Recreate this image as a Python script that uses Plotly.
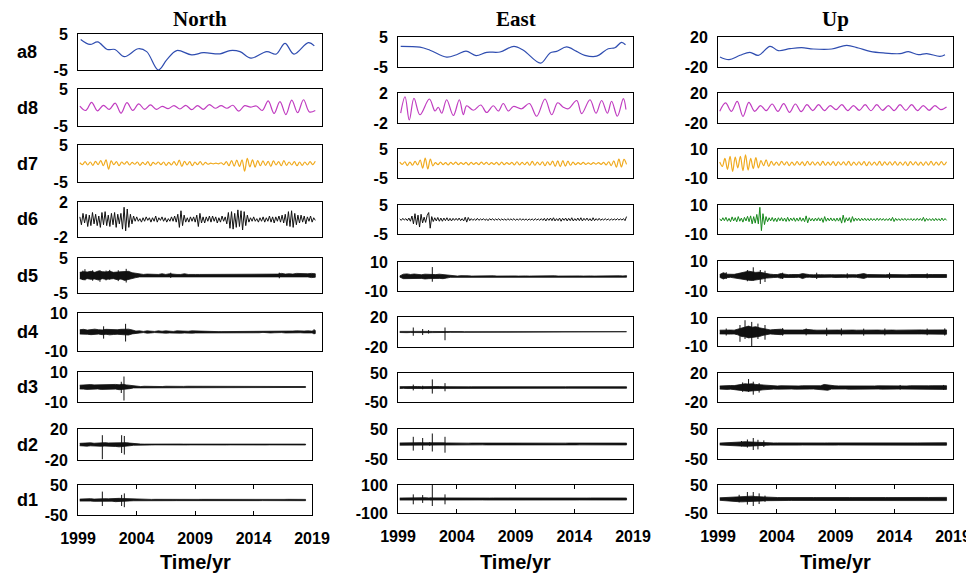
import numpy as np
import plotly.graph_objects as go

W, H = 974, 578          # browser window
OFF = 8                  # page body margin that offsets the figure inside the window
FW, FH = W - OFF, H - OFF
T0, T1 = 1999.15, 2018.45

COLUMNS = ["North", "East", "Up"]
ROWS = ["a8", "d8", "d7", "d6", "d5", "d4", "d3", "d2", "d1"]
XTICKS = [1999, 2004, 2009, 2014, 2019]

YLIM = {
    "North": [5, 5, 5, 2, 5, 10, 10, 20, 50],
    "East": [5, 2, 5, 5, 10, 20, 50, 50, 100],
    "Up": [20, 20, 10, 10, 10, 10, 20, 50, 50],
}

# =============== NORTH ===============
N_A8_T = [1999.22, 1999.98, 2000.61, 2001.40, 2002.03, 2002.80, 2003.94, 2004.63, 2005.58, 2006.27,
          2007.09, 2008.32, 2009.27, 2010.64, 2011.46, 2012.28, 2013.18, 2014.47, 2015.23, 2015.97,
          2016.70, 2017.88, 2018.37]
N_A8 = [3.5, 2.1, 2.8, 0.7, 0.7, -1.3, 0.9, 0.1, -5.0, -2.2, 0.4, -0.8, -0.2, -0.5, 0.4, 0.1, -1.7,
        0.1, -0.6, 2.4, -0.6, 2.6, 1.7]
N_D8 = [0.4, -0.8, 1.4, -0.9, 0.6, -0.5, 1.2, -1.5, 1.3, -0.8, 1.0, -0.5, 0.7, -0.5, 0.3, -0.3, 0.5,
        -0.4, 0.6, -0.6, 0.5, -0.5, 0.8, -0.2, 0.5, -0.2, 0.6, -1.0, 0.5, 0.1, 0.4, -0.8, 1.8, -1.6,
        1.6, -1.9, 2.0, -1.4, 2.1, -1.2, -0.8]
N_D7 = [0.2, -0.3, 0.5, -0.4, 0.4, -0.5, 0.6, -0.3, 0.8, -0.6, 1.0, -1.5, 0.7, -0.3, 0.5, -0.6, 0.4,
        -0.2, 0.5, -0.4, 0.3, -0.2, 0.4, -0.5, 0.3, -0.3, 0.5, -0.6, 0.3, -0.2, 0.4, -0.3, 0.4, -0.5,
        0.3, -0.4, 0.5, -0.5, 0.9, -0.8, 0.6, -0.4, 0.5, -0.6, 0.4, -0.3, 0.5, -0.4, 0.3, -0.2, 0.1,
        -0.1, 0.1, -0.1, 0.2, -0.3, 0.5, -0.6, 0.8, -0.7, 0.9, -0.8, 1.0, -2.1, 1.4, -0.9, 1.0, -1.0,
        0.8, -0.6, 0.7, -0.5, 0.6, -0.8, 0.7, -0.4, 0.5, -0.6, 0.8, -0.5, 0.4, -0.4, 0.5, -0.6, 0.4,
        -0.5, 0.4, -0.4, 0.5, -0.3, 0.6]
N_D6 = [0.3, -0.6, 0.7, -0.4, 0.6, -0.8, 0.5, -0.7, 0.8, -0.5, 0.6, -0.7, 0.4, -0.9, 0.8, -0.6, 0.9,
        -0.7, 0.5, -0.8, 0.7, -0.6, 0.8, -0.9, 0.6, -0.5, 0.7, -1.1, 1.4, -1.3, 1.2, -0.9, 0.6, -0.5,
        0.4, -0.2, 0.3, -0.2, 0.1, -0.3, 0.2, -0.2, 0.3, -0.1, 0.2, -0.3, 0.2, -0.2, 0.4, -0.3, 0.2,
        -0.1, 0.3, -0.2, 0.2, -0.3, 0.1, -0.2, 0.3, -0.2, 0.4, -0.3, 0.6, -0.9, 1.0, -0.7, 0.5, -0.3,
        0.2, -0.3, 0.3, -0.2, 0.3, -0.3, 0.5, -0.8, 0.7, -0.4, 0.3, -0.4, 0.3, -0.2, 0.4, -0.3, 0.4,
        -0.2, 0.3, -0.4, 0.2, -0.3, 0.4, -0.2, 0.3, -0.5, 0.8, -1.0, 0.9, -1.1, 0.7, -0.9, 1.1, -0.8,
        1.0, -1.2, 0.9, -0.7, 0.5, -0.3, 0.2, -0.2, 0.3, -0.2, 0.1, -0.3, 0.2, -0.2, 0.3, -0.3, 0.2,
        -0.2, 0.4, -0.3, 0.3, -0.4, 0.3, -0.2, 0.4, -0.3, 0.5, -0.4, 0.6, -0.7, 0.9, -0.8, 1.0, -0.9,
        0.7, -0.6, 0.5, -0.4, 0.5, -0.3, 0.4, -0.5, 0.3, -0.2, 0.4, -0.3, 0.2, -0.1]
# dense detail levels: upper / lower envelope on a regular time grid, plus isolated spikes
N_D5_HI = [0.9, 1.1, 1.0, 1.2, 0.9, 1.3, 1.1, 1.0, 1.2, 0.9, 1.0, 1.1, 1.3, 1.2, 0.8, 0.6,
           0.4, 0.3, 0.4, 0.3, 0.3, 0.3, 0.5, 0.3, 0.5, 0.3, 0.3, 0.3, 0.5, 0.3, 0.4, 0.3,
           0.3, 0.3, 0.4, 0.3, 0.3, 0.3, 0.3, 0.5, 0.3, 0.3, 0.3, 0.3, 0.4, 0.3, 0.3, 0.4,
           0.3, 0.3, 0.5, 0.4, 0.3, 0.4, 0.6, 0.4, 0.5, 0.4, 0.6, 0.5, 0.4, 0.5, 0.6, 0.5]
N_D5_LO = [-0.9, -1.2, -0.9, -1.1, -1.0, -1.3, -0.9, -1.1, -1.0, -0.9, -1.2, -1.0, -1.4, -1.1, -0.8, -0.6,
           -0.4, -0.3, -0.3, -0.4, -0.3, -0.3, -0.4, -0.4, -0.5, -0.3, -0.3, -0.3, -0.4, -0.4, -0.3, -0.3,
           -0.3, -0.3, -0.3, -0.3, -0.4, -0.3, -0.3, -0.4, -0.3, -0.3, -0.3, -0.4, -0.3, -0.3, -0.3, -0.3,
           -0.4, -0.3, -0.4, -0.3, -0.3, -0.4, -0.5, -0.4, -0.4, -0.4, -0.5, -0.5, -0.4, -0.4, -0.6, -0.5]
N_D5_SPK = ([1999.4, 1999.57, 2000.2, 2000.8, 2001.3, 2001.6, 2002.3, 2002.95, 2006.6, 2015.5],
            [1.4, 1.8, 1.5, 1.5, 1.4, 1.6, 1.5, 1.9, 0.8, 0.8],
            [-1.3, -1.4, -1.5, -1.8, -1.4, -1.2, -1.6, -2.0, -0.7, -0.8])

N_D4_HI = [1.2, 1.4, 1.0, 1.3, 1.5, 1.2, 1.1, 1.4, 1.3, 1.5, 1.2, 1.4, 1.6, 1.5, 1.1, 0.5,
           0.6, 0.3, 0.6, 0.5, 0.3, 0.6, 0.4, 0.6, 0.5, 0.3, 0.6, 0.5, 0.6, 0.4, 0.6, 0.5,
           0.5, 0.3, 0.2, 0.2, 0.2, 0.2, 0.2, 0.2, 0.2, 0.2, 0.2, 0.2, 0.5, 0.2, 0.2, 0.5,
           0.4, 0.2, 0.2, 0.5, 0.4, 0.5, 0.3, 0.5, 0.4, 0.5, 0.6, 0.4, 0.5, 0.6, 0.5, 0.8]
N_D4_LO = [-1.1, -1.3, -1.2, -1.4, -1.3, -1.1, -1.4, -1.2, -1.5, -1.3, -1.2, -1.5, -1.4, -1.6, -1.0, -0.5,
           -0.5, -0.3, -0.6, -0.5, -0.3, -0.5, -0.4, -0.6, -0.5, -0.3, -0.5, -0.6, -0.5, -0.4, -0.6, -0.5,
           -0.4, -0.3, -0.2, -0.2, -0.2, -0.2, -0.2, -0.2, -0.2, -0.2, -0.2, -0.2, -0.5, -0.2, -0.2, -0.4,
           -0.4, -0.2, -0.2, -0.5, -0.4, -0.5, -0.3, -0.5, -0.4, -0.5, -0.5, -0.4, -0.5, -0.6, -0.5, -0.8]
N_D4_SPK = ([2001.1, 2002.9, 2018.35], [3.0, 4.3, 1.5], [-3.5, -5.0, -1.2])

N_D3_HI = [1.2, 1.5, 1.3, 1.6, 1.4, 1.5, 1.3, 1.6, 1.5, 1.4, 1.7, 1.5, 1.8, 1.4, 1.0, 0.6,
           0.5, 0.3, 0.5, 0.4, 0.3, 0.5, 0.3, 0.3, 0.5, 0.4, 0.5, 0.3, 0.5, 0.4, 0.5, 0.5,
           0.3, 0.3, 0.2, 0.3, 0.2, 0.2, 0.2, 0.2, 0.2, 0.4, 0.2, 0.3, 0.4, 0.2, 0.3, 0.4,
           0.2, 0.4, 0.3, 0.2, 0.4, 0.3, 0.2, 0.4, 0.3, 0.4, 0.3, 0.4, 0.3, 0.4, 0.3, 0.3]
N_D3_LO = [-1.3, -1.4, -1.6, -1.2, -1.5, -1.3, -1.6, -1.4, -1.6, -1.5, -1.4, -1.8, -1.6, -1.5, -1.1, -0.6,
           -0.4, -0.3, -0.5, -0.5, -0.3, -0.4, -0.3, -0.3, -0.4, -0.5, -0.4, -0.3, -0.5, -0.4, -0.4, -0.5,
           -0.3, -0.3, -0.2, -0.3, -0.2, -0.2, -0.2, -0.2, -0.2, -0.4, -0.2, -0.3, -0.4, -0.2, -0.3, -0.3,
           -0.2, -0.4, -0.3, -0.2, -0.4, -0.3, -0.2, -0.4, -0.3, -0.4, -0.3, -0.4, -0.3, -0.3, -0.3, -0.3]
N_D3_SPK = ([2002.7, 2002.93], [3.5, 7.0], [-4.0, -9.0])

N_D2_HI = [1.5, 2.0, 1.8, 2.2, 1.6, 2.0, 1.8, 2.4, 2.0, 2.2, 2.6, 2.8, 3.0, 2.4, 1.8, 1.2,
           0.8, 0.6, 0.5, 0.6, 0.5, 0.5, 0.6, 0.5, 0.5, 0.6, 0.5, 0.5, 0.6, 0.5, 0.5, 0.5,
           0.5, 0.5, 0.5, 0.6, 0.5, 0.5, 0.5, 0.6, 0.5, 0.5, 0.6, 0.5, 0.5, 0.5, 0.6, 0.5,
           0.5, 0.6, 0.5, 0.5, 0.5, 0.6, 0.5, 0.5, 0.6, 0.5, 0.5, 0.6, 0.5, 0.5, 0.6, 0.5]
N_D2_LO = [-1.6, -1.8, -2.1, -1.7, -2.2, -1.8, -2.3, -2.0, -2.4, -2.1, -2.5, -3.0, -2.6, -2.2, -1.6, -1.0,
           -0.7, -0.6, -0.5, -0.5, -0.6, -0.5, -0.5, -0.6, -0.5, -0.5, -0.6, -0.5, -0.5, -0.5, -0.6, -0.5,
           -0.5, -0.6, -0.5, -0.5, -0.5, -0.5, -0.6, -0.5, -0.5, -0.6, -0.5, -0.5, -0.5, -0.6, -0.5, -0.5,
           -0.6, -0.5, -0.5, -0.5, -0.6, -0.5, -0.5, -0.5, -0.5, -0.6, -0.5, -0.5, -0.6, -0.5, -0.5, -0.6]
N_D2_SPK = ([2001.08, 2002.73, 2002.96], [12.0, 12.0, 11.0], [-19.0, -11.0, -13.0])

N_D1_HI = [3.0, 4.0, 3.5, 4.5, 3.0, 4.0, 5.0, 4.5, 4.0, 5.0, 4.5, 5.5, 5.0, 4.5, 3.0, 2.5,
           2.0, 2.2, 2.0, 2.1, 2.0, 2.2, 2.0, 2.1, 2.0, 2.2, 2.1, 2.0, 2.2, 2.0, 2.1, 2.0,
           2.2, 2.0, 2.1, 2.0, 2.2, 2.0, 2.1, 2.0, 2.2, 2.1, 2.0, 2.2, 2.0, 2.1, 2.0, 2.2,
           2.0, 2.1, 2.0, 2.2, 2.0, 2.1, 2.2, 2.0, 2.1, 2.0, 2.2, 2.0, 2.1, 2.0, 2.2, 2.0]
N_D1_LO = [-3.5, -3.0, -4.0, -3.5, -4.5, -3.5, -4.5, -5.0, -4.5, -4.0, -5.5, -5.0, -4.5, -4.0, -3.0, -2.5,
           -2.1, -2.0, -2.2, -2.0, -2.1, -2.0, -2.2, -2.0, -2.1, -2.0, -2.2, -2.1, -2.0, -2.2, -2.0, -2.1,
           -2.0, -2.2, -2.0, -2.1, -2.0, -2.2, -2.0, -2.1, -2.0, -2.2, -2.1, -2.0, -2.2, -2.0, -2.1, -2.0,
           -2.2, -2.0, -2.1, -2.0, -2.2, -2.0, -2.1, -2.2, -2.0, -2.1, -2.0, -2.2, -2.0, -2.1, -2.0, -2.2]
N_D1_SPK = ([2001.08, 2002.73, 2002.96], [28.0, 17.0, 22.0], [-20.0, -20.0, -24.0])

# =============== EAST ===============
E_A8_T = [1999.23, 2000.87, 2001.72, 2003.14, 2003.99, 2004.79, 2005.64, 2006.55, 2007.68, 2008.87,
          2009.67, 2011.14, 2011.94, 2012.50, 2013.35, 2014.20, 2014.90, 2015.90, 2016.89, 2017.46,
          2018.02, 2018.36]
E_A8 = [1.9, 1.6, 0.6, -1.7, -0.9, 0.3, -1.2, -0.1, 0.0, 1.9, 0.6, -3.7, -0.3, 0.2, 1.7, 0.2, -1.1,
        -1.4, 1.1, 1.4, 3.2, 2.4]
E_D8_T = [1999.23, 1999.60, 1999.96, 2000.36, 2000.87, 2001.67, 2002.15, 2002.43, 2002.72, 2003.14,
          2003.71, 2004.22, 2004.56, 2004.84, 2005.41, 2006.04, 2006.55, 2007.11, 2007.54, 2007.96,
          2008.39, 2008.82, 2009.52, 2010.18, 2010.80, 2011.51, 2012.08, 2012.59, 2013.07, 2013.50,
          2014.21, 2014.63, 2015.34, 2015.85, 2016.33, 2016.82, 2017.18, 2017.67, 2018.18, 2018.40]
E_D8 = [-0.67, 1.5, -1.6, 1.3, -0.9, 1.2, -0.4, 0.1, -0.7, 1.1, -1.0, 1.1, -0.9, 0.3, -0.3, 0.4, -0.6,
        0.3, -0.4, 0.6, -0.4, 0.2, -0.1, 0.6, -1.1, 1.2, -0.9, 0.7, 0.1, -0.1, 1.0, -0.75, 1.1, -0.7,
        1.0, -0.7, 0.9, -1.1, 1.25, -0.2]
E_D7 = [0.5, -0.3, 0.6, -0.7, 0.5, -0.6, 0.7, -0.5, 1.2, -1.6, 1.9, -1.9, 1.5, -0.8, 0.3, -0.4, 0.5,
        -0.4, 0.3, -0.5, 0.4, -0.3, 0.5, -0.4, 0.3, -0.3, 0.4, -0.5, 0.4, -0.3, 0.3, -0.4, 0.5, -0.3,
        0.4, -0.4, 0.3, -0.3, 0.4, -0.5, 0.5, -0.4, 0.3, -0.3, 0.4, -0.5, 0.6, -0.5, 0.4, -0.4, 0.5,
        -0.6, 0.7, -0.6, 0.5, -0.5, 0.6, -0.7, 0.6, -0.5, 0.8, -1.0, 0.9, -1.1, 1.0, -0.9, 0.8, -0.6,
        0.5, -0.4, 0.3, -0.3, 0.4, -0.3, 0.2, -0.3, 0.3, -0.2, 0.3, -0.3, 0.4, -0.5, 0.6, -0.7, 0.9,
        -1.3, 1.5, -1.2, 1.4, -0.3]
E_D6 = [0.2, -0.3, 0.4, -0.2, 0.3, -0.4, 0.5, -0.6, 1.2, -1.5, 2.0, -1.8, 1.5, -2.6, 1.8, -1.2, 0.8,
        -1.0, 1.4, 2.4, -3.0, 1.0, -0.7, 0.6, -0.5, 0.7, -0.6, 0.5, -0.6, 0.5, -0.4, 0.6, -0.5, 0.4,
        -0.5, 0.4, -0.3, 0.4, -0.3, 0.5, -0.4, 0.3, -0.5, 0.8, -0.9, 0.7, -0.4, 0.3, -0.3, 0.2, -0.3,
        0.4, -0.3, 0.2, -0.2, 0.3, -0.3, 0.2, -0.4, 0.3, -0.2, 0.3, -0.3, 0.2, -0.2, 0.3, -0.3, 0.2,
        -0.2, 0.2, -0.3, 0.3, -0.2, 0.2, -0.2, 0.3, -0.3, 0.2, -0.2, 0.3, -0.2, 0.2, -0.2, 0.2, -0.3,
        0.2, -0.2, 0.2, -0.3, 0.3, -0.2, 0.2, -0.3, 0.3, -0.3, 0.4, -0.5, 0.4, -0.3, 0.5, -0.4, 0.6,
        -0.5, 0.3, -0.4, 0.5, -0.6, 0.4, -0.3, 0.5, -0.5, 0.4, -0.4, 0.6, -0.5, 0.3, -0.4, 0.5, -0.4,
        0.6, -0.5, 0.4, -0.3, 0.5, -0.4, 0.3, -0.5, 0.6, -0.4, 0.3, -0.3, 0.4, -0.3, 0.2, -0.2, 0.3,
        -0.2, 0.2, -0.3, 0.2, -0.2, 0.2, -0.2, 0.3, -0.2, 0.2, -0.2, 0.3, -0.4, 1.0]
E_D5_HI = [0.4, 1.6, 1.8, 1.4, 1.7, 1.5, 1.2, 1.6, 1.4, 1.5, 1.3, 1.6, 1.4, 1.0, 0.6, 0.4,
           0.3, 0.6, 0.3, 0.5, 0.3, 0.4, 0.3, 0.5, 0.3, 0.4, 0.5, 0.3, 0.4, 0.3, 0.5, 0.3,
           0.4, 0.3, 0.5, 0.4, 0.3, 0.4, 0.5, 0.3, 0.4, 0.3, 0.4, 0.5, 0.3, 0.4, 0.3, 0.5,
           0.4, 0.3, 0.4, 0.3, 0.5, 0.4, 0.3, 0.4, 0.5, 0.3, 0.4, 0.3, 0.4, 0.5, 0.4, 0.6]
E_D5_LO = [-0.4, -1.5, -1.9, -1.3, -1.6, -1.4, -1.3, -1.7, -1.5, -1.4, -1.6, -1.3, -1.5, -1.1, -0.6, -0.4,
           -0.3, -0.5, -0.3, -0.4, -0.3, -0.5, -0.3, -0.4, -0.3, -0.5, -0.4, -0.3, -0.4, -0.3, -0.4, -0.3,
           -0.5, -0.3, -0.4, -0.4, -0.3, -0.5, -0.4, -0.3, -0.4, -0.3, -0.5, -0.4, -0.3, -0.4, -0.3, -0.4,
           -0.5, -0.3, -0.4, -0.3, -0.4, -0.5, -0.3, -0.4, -0.4, -0.3, -0.5, -0.3, -0.4, -0.4, -0.5, -0.5]
E_D5_SPK = ([2001.92], [6.5], [-3.6])

E_D4_HI = [0.8, 0.9, 0.7, 0.8, 0.9, 0.8, 0.7, 0.9, 0.8, 0.7, 0.8, 0.9, 0.8, 0.6, 0.5, 0.4,
           0.4, 0.5, 0.4, 0.4, 0.5, 0.4, 0.4, 0.5, 0.4, 0.4, 0.5, 0.4, 0.4, 0.5, 0.4, 0.4,
           0.5, 0.4, 0.4, 0.5, 0.4, 0.4, 0.5, 0.4, 0.4, 0.5, 0.4, 0.4, 0.5, 0.4, 0.4, 0.5,
           0.4, 0.4, 0.5, 0.4, 0.4, 0.5, 0.4, 0.4, 0.5, 0.4, 0.4, 0.5, 0.4, 0.4, 0.5, 0.4]
E_D4_LO = [-0.7, -0.8, -0.9, -0.7, -0.8, -0.9, -0.8, -0.7, -0.9, -0.8, -0.7, -0.8, -0.9, -0.6, -0.5, -0.4,
           -0.5, -0.4, -0.4, -0.5, -0.4, -0.4, -0.5, -0.4, -0.4, -0.5, -0.4, -0.4, -0.5, -0.4, -0.4, -0.5,
           -0.4, -0.4, -0.5, -0.4, -0.4, -0.5, -0.4, -0.4, -0.5, -0.4, -0.4, -0.5, -0.4, -0.4, -0.5, -0.4,
           -0.4, -0.5, -0.4, -0.4, -0.5, -0.4, -0.4, -0.5, -0.4, -0.4, -0.5, -0.4, -0.4, -0.5, -0.4, -0.4]
E_D4_SPK = ([2000.3, 2001.1, 2001.6, 2003.0], [6.0, 4.0, 2.5, 6.0], [-5.0, -4.0, -2.0, -11.0])

E_D3_HI = [3.0, 3.5, 3.0, 3.5, 3.0, 3.5, 3.0, 3.5, 3.0, 3.5, 3.0, 3.5, 3.0, 2.6, 2.5, 2.5,
           2.4, 2.6, 2.5, 2.4, 2.6, 2.5, 2.4, 2.6, 2.5, 2.4, 2.6, 2.5, 2.4, 2.6, 2.5, 2.4,
           2.6, 2.5, 2.4, 2.6, 2.5, 2.4, 2.6, 2.5, 2.4, 2.6, 2.5, 2.4, 2.6, 2.5, 2.4, 2.6,
           2.5, 2.4, 2.6, 2.5, 2.4, 2.6, 2.5, 2.4, 2.6, 2.5, 2.4, 2.6, 2.5, 2.4, 2.6, 2.5]
E_D3_LO = [-3.5, -3.0, -3.5, -3.0, -3.5, -3.0, -3.5, -3.0, -3.5, -3.0, -3.5, -3.0, -3.2, -2.6, -2.5, -2.5,
           -2.5, -2.4, -2.6, -2.5, -2.4, -2.6, -2.5, -2.4, -2.6, -2.5, -2.4, -2.6, -2.5, -2.4, -2.6, -2.5,
           -2.4, -2.6, -2.5, -2.4, -2.6, -2.5, -2.4, -2.6, -2.5, -2.4, -2.6, -2.5, -2.4, -2.6, -2.5, -2.4,
           -2.6, -2.5, -2.4, -2.6, -2.5, -2.4, -2.6, -2.5, -2.4, -2.6, -2.5, -2.4, -2.6, -2.5, -2.4, -2.6]
E_D3_SPK = ([2000.3, 2001.1, 2001.92, 2003.0], [10.0, 6.0, 28.0, 15.0], [-10.0, -6.0, -21.0, -13.0])

E_D2_HI = [3.5, 4.0, 3.5, 4.0, 3.5, 4.0, 4.5, 4.0, 4.5, 4.0, 4.5, 4.0, 4.0, 3.5, 3.0, 3.0,
           2.9, 3.1, 3.0, 2.9, 3.1, 3.0, 2.9, 3.1, 3.0, 2.9, 3.1, 3.0, 2.9, 3.1, 3.0, 2.9,
           3.1, 3.0, 2.9, 3.1, 3.0, 2.9, 3.1, 3.0, 2.9, 3.1, 3.0, 2.9, 3.1, 3.0, 2.9, 3.1,
           3.0, 2.9, 3.1, 3.0, 2.9, 3.1, 3.0, 2.9, 3.1, 3.0, 2.9, 3.1, 3.0, 2.9, 3.1, 3.0]
E_D2_LO = [-4.0, -3.5, -4.0, -3.5, -4.0, -3.5, -4.0, -4.5, -4.0, -4.5, -4.0, -4.5, -4.0, -3.5, -3.0, -3.0,
           -3.0, -2.9, -3.1, -3.0, -2.9, -3.1, -3.0, -2.9, -3.1, -3.0, -2.9, -3.1, -3.0, -2.9, -3.1, -3.0,
           -2.9, -3.1, -3.0, -2.9, -3.1, -3.0, -2.9, -3.1, -3.0, -2.9, -3.1, -3.0, -2.9, -3.1, -3.0, -2.9,
           -3.1, -3.0, -2.9, -3.1, -3.0, -2.9, -3.1, -3.0, -2.9, -3.1, -3.0, -2.9, -3.1, -3.0, -2.9, -3.1]
E_D2_SPK = ([2000.3, 2001.1, 2001.7, 2001.92, 2003.0], [24.0, 20.0, 6.0, 35.0, 24.0],
            [-22.0, -20.0, -6.0, -25.0, -29.0])

E_D1_HI = [7.0, 8.0, 7.5, 8.0, 7.0, 8.5, 8.0, 9.0, 8.0, 9.0, 8.5, 8.0, 8.0, 7.5, 7.0, 7.0,
           6.8, 7.2, 7.0, 6.8, 7.2, 7.0, 6.8, 7.2, 7.0, 6.8, 7.2, 7.0, 6.8, 7.2, 7.0, 6.8,
           7.2, 7.0, 6.8, 7.2, 7.0, 6.8, 7.2, 7.0, 6.8, 7.2, 7.0, 6.8, 7.2, 7.0, 6.8, 7.2,
           7.0, 6.8, 7.2, 7.0, 6.8, 7.2, 7.0, 6.8, 7.2, 7.0, 6.8, 7.2, 7.0, 6.8, 7.2, 7.0]
E_D1_LO = [-7.5, -7.0, -8.0, -7.5, -8.0, -7.0, -8.5, -8.0, -9.0, -8.0, -8.5, -8.0, -8.0, -7.5, -7.0, -7.0,
           -7.0, -6.8, -7.2, -7.0, -6.8, -7.2, -7.0, -6.8, -7.2, -7.0, -6.8, -7.2, -7.0, -6.8, -7.2, -7.0,
           -6.8, -7.2, -7.0, -6.8, -7.2, -7.0, -6.8, -7.2, -7.0, -6.8, -7.2, -7.0, -6.8, -7.2, -7.0, -6.8,
           -7.2, -7.0, -6.8, -7.2, -7.0, -6.8, -7.2, -7.0, -6.8, -7.2, -7.0, -6.8, -7.2, -7.0, -6.8, -7.2]
E_D1_SPK = ([2000.3, 2001.1, 2001.8, 2001.92, 2003.0], [33.0, 28.0, 10.0, 100.0, 33.0],
            [-38.0, -28.0, -10.0, -50.0, -38.0])

# =============== UP ===============
U_A8_T = [1999.17, 1999.94, 2000.87, 2001.72, 2002.43, 2003.43, 2004.13, 2005.13, 2006.12, 2007.11,
          2008.68, 2009.95, 2010.94, 2011.94, 2013.07, 2014.49, 2015.20, 2016.05, 2016.76, 2017.89,
          2018.32]
U_A8 = [-6.7, -10.2, -4.4, -0.4, -4.5, 7.6, 1.8, 4.4, 5.8, 4.0, 4.0, 8.9, 5.3, 0.9, -1.3, -2.2, 0.4,
        -3.6, -2.2, -5.8, -3.6]
U_D8 = [-4.4, 6.7, -4.4, 8.9, -11.1, 7.6, -4.4, 3.1, -3.6, 5.3, -4.4, 5.8, -5.8, 5.3, -4.9, 4.4, -3.6,
        4.4, -3.6, 3.1, -2.2, 4.4, -3.6, 3.1, -3.1, 4.4, -3.6, 4.4, -3.1, 3.1, -3.6, 4.4, -3.1, 4.4,
        -3.6, 3.1, -3.1, 3.1, -2.2, 1.3]
U_D7 = [1.0, -2.0, 3.5, -4.0, 5.0, -5.5, 4.5, -3.0, 5.0, -5.0, 6.0, -4.5, 3.5, -3.5, 4.0, -3.0, 2.0,
        -1.5, 2.5, -2.0, 1.5, -1.2, 1.0, -1.3, 1.5, -1.0, 1.2, -1.4, 1.0, -1.2, 1.3, -1.0, 1.1, -1.5,
        1.4, -1.0, 1.2, -1.1, 1.0, -1.3, 1.5, -1.2, 1.0, -1.1, 1.3, -1.4, 1.2, -1.0, 1.1, -1.2, 1.4,
        -1.3, 1.0, -1.1, 1.2, -1.0, 1.3, -1.5, 1.2, -1.1, 1.0, -1.2, 1.4, -1.3, 1.1, -1.0, 1.2, -1.1,
        1.3, -1.2, 1.0, -1.1, 1.2, -1.4, 1.3, -1.0, 1.1, -1.2, 1.0, -1.3, 1.2, -1.1, 1.4, -1.2, 1.0,
        -1.1, 1.3, -1.0, 1.2]
U_D6 = [0.5, -1.0, 1.2, -0.8, 1.5, -1.2, 0.8, -1.5, 1.8, -1.0, 1.3, -1.6, 2.0, -1.2, 1.0, -1.8, 1.5,
        -1.0, 2.2, -1.5, 2.5, -3.0, 2.0, -2.5, 3.5, -3.0, 8.4, -7.7, 4.0, -3.5, 2.0, -1.5, 1.2, -1.0,
        1.4, -1.3, 1.0, -1.5, 1.2, -0.9, 1.3, -1.1, 1.0, -1.4, 1.5, -1.2, 1.0, -0.8, 1.2, -1.3, 1.0,
        -1.1, 1.4, -1.2, 1.0, -1.5, 2.5, -2.3, 1.2, -1.0, 0.8, -1.1, 1.0, -0.9, 1.2, -1.0, 1.1, -2.0,
        2.0, -1.2, 1.0, -0.9, 1.1, -1.0, 0.8, -1.2, 1.0, -1.1, 1.2, -2.5, 3.0, -2.0, 1.2, -1.0, 1.3,
        -2.0, 2.0, -1.2, 1.0, -0.8, 0.9, -1.0, 0.8, -0.7, 0.9, -0.8, 0.7, -0.9, 0.8, -0.7, 0.6, -0.8,
        0.9, -0.7, 0.8, -0.6, 0.7, -0.8, 0.6, -0.7, 0.8, -0.9, 1.5, -1.4, 0.8, -0.7, 0.6, -0.8, 0.7,
        -0.6, 0.8, -0.7, 0.6, -0.5, 0.7, -0.8, 0.6, -0.7, 0.8, -0.6, 0.7, -0.8, 1.5, -1.3, 0.8, -0.7,
        0.6, -0.8, 0.7, -0.9, 0.8, -0.7, 0.6, -0.9, 1.0, -0.8, 0.7, -0.6]
U_D5_HI = [1.0, 2.2, 1.2, 1.0, 1.1, 1.6, 2.2, 2.8, 3.2, 2.8, 2.4, 2.6, 2.0, 1.6, 1.2, 1.0,
           1.0, 1.6, 1.0, 0.9, 1.0, 0.8, 1.0, 1.6, 1.0, 0.9, 0.8, 1.0, 0.9, 0.8, 1.0, 0.9,
           0.8, 1.0, 0.9, 0.8, 1.0, 0.9, 0.8, 1.0, 1.6, 1.0, 0.9, 0.8, 1.0, 0.9, 0.8, 1.0,
           0.9, 0.8, 1.0, 0.9, 0.8, 1.0, 0.9, 0.8, 1.0, 0.9, 1.0, 1.0, 0.9, 1.0, 1.0, 1.0]
U_D5_LO = [-0.9, -2.0, -1.1, -0.9, -1.0, -1.4, -2.0, -2.4, -2.8, -3.0, -2.6, -2.4, -1.9, -1.4, -1.1, -1.0,
           -0.9, -1.5, -1.0, -0.8, -0.9, -1.0, -0.8, -1.7, -0.9, -0.8, -1.0, -0.9, -0.8, -1.0, -0.9, -0.8,
           -1.0, -0.9, -0.8, -1.0, -0.9, -0.8, -0.9, -1.0, -1.6, -0.9, -0.8, -1.0, -0.9, -0.8, -1.0, -0.9,
           -0.8, -1.0, -0.9, -0.8, -1.0, -0.9, -0.8, -1.0, -0.9, -1.0, -1.0, -0.9, -1.0, -1.0, -1.0, -1.0]
U_D5_SPK = ([1999.7, 2001.5, 2002.0, 2002.6, 2003.0, 2004.5, 2007.4, 2010.0, 2013.6, 2016.8],
            [2.5, 4.0, 5.8, 4.0, 3.5, 2.2, 2.2, 1.8, 2.2, 1.8],
            [-2.0, -3.5, -3.0, -5.3, -4.0, -2.0, -2.0, -1.6, -2.0, -1.6])

U_D4_HI = [1.3, 1.5, 1.4, 1.4, 1.3, 2.1, 3.0, 3.8, 4.2, 3.4, 3.8, 3.0, 2.6, 1.9, 1.5, 1.7,
           1.9, 2.0, 1.4, 1.4, 1.5, 1.3, 1.4, 1.4, 1.9, 1.4, 1.4, 1.3, 1.4, 1.5, 1.4, 1.3,
           1.4, 1.4, 1.3, 1.5, 1.4, 1.4, 1.3, 1.4, 1.5, 1.4, 1.3, 1.4, 1.4, 1.3, 1.5, 1.4,
           1.4, 1.3, 1.4, 1.4, 1.5, 1.4, 1.3, 1.4, 1.5, 1.4, 1.4, 1.5, 1.4, 1.5, 1.6, 1.5]
U_D4_LO = [-1.4, -1.4, -1.3, -1.5, -1.4, -2.0, -3.2, -3.4, -4.2, -3.8, -3.4, -3.2, -2.4, -1.7, -1.4, -1.6,
           -2.0, -1.9, -1.4, -1.4, -1.3, -1.4, -1.4, -1.5, -1.8, -1.4, -1.3, -1.4, -1.4, -1.5, -1.3, -1.4,
           -1.4, -1.3, -1.4, -1.4, -1.5, -1.4, -1.3, -1.4, -1.4, -1.5, -1.4, -1.3, -1.4, -1.4, -1.4, -1.5,
           -1.3, -1.4, -1.4, -1.5, -1.4, -1.3, -1.4, -1.4, -1.4, -1.5, -1.4, -1.4, -1.5, -1.6, -1.5, -1.6]
U_D4_SPK = ([1999.7, 2000.87, 2001.3, 2001.87, 2002.4, 2003.0, 2004.5, 2006.5, 2008.25, 2009.5,
             2011.4, 2013.2, 2016.8, 2018.3],
            [2.5, 5.0, 8.4, 7.2, 6.0, 5.0, 2.8, 2.5, 3.0, 2.6, 2.4, 2.5, 2.5, 2.6],
            [-2.5, -7.0, -5.0, -10.0, -5.0, -5.5, -2.6, -2.4, -2.8, -2.5, -2.6, -2.4, -2.3, -2.5])

U_D3_HI = [2.1, 2.6, 2.4, 2.7, 2.6, 3.4, 4.2, 5.1, 4.7, 5.1, 4.2, 3.8, 3.4, 2.7, 2.4, 2.2,
           2.1, 2.4, 2.2, 2.1, 2.3, 2.2, 2.1, 2.4, 2.2, 2.1, 2.3, 2.2, 2.4, 4.2, 3.4, 2.1,
           2.3, 2.2, 2.1, 2.4, 2.2, 2.1, 2.3, 2.2, 2.1, 2.4, 2.2, 2.1, 2.3, 2.2, 2.1, 2.4,
           2.2, 2.1, 2.3, 2.2, 2.1, 2.4, 2.2, 2.3, 2.4, 2.2, 2.3, 2.5, 2.4, 2.5, 2.6, 2.5]
U_D3_LO = [-2.2, -2.4, -2.6, -2.3, -2.6, -3.2, -4.1, -4.7, -5.1, -4.7, -4.4, -3.9, -3.2, -2.6, -2.3, -2.2,
           -2.3, -2.1, -2.2, -2.4, -2.1, -2.3, -2.2, -2.1, -2.4, -2.2, -2.1, -2.3, -2.2, -3.4, -3.8, -2.2,
           -2.1, -2.3, -2.2, -2.1, -2.4, -2.2, -2.1, -2.3, -2.2, -2.1, -2.4, -2.2, -2.1, -2.3, -2.2, -2.1,
           -2.4, -2.2, -2.1, -2.3, -2.2, -2.4, -2.3, -2.2, -2.4, -2.3, -2.5, -2.4, -2.5, -2.6, -2.5, -2.6]
U_D3_SPK = ([2001.1, 2001.6, 2002.0, 2002.5, 2014.5, 2018.2], [7.0, 11.7, 8.0, 6.0, 3.5, 3.5],
            [-6.0, -6.0, -9.9, -7.0, -3.0, -3.2])

U_D2_HI = [3.0, 3.4, 3.8, 3.4, 4.2, 5.1, 6.8, 7.6, 6.8, 7.6, 7.2, 6.0, 5.1, 4.2, 3.8, 3.4,
           3.6, 3.4, 3.7, 3.4, 3.6, 3.5, 3.4, 3.7, 3.4, 3.6, 3.5, 3.4, 3.7, 3.4, 3.6, 3.5,
           3.4, 3.7, 3.4, 3.6, 3.5, 3.4, 3.7, 3.4, 3.6, 3.5, 3.4, 3.7, 3.4, 3.6, 3.5, 3.4,
           3.7, 3.4, 3.6, 3.5, 3.4, 3.7, 3.6, 3.7, 3.7, 3.8, 3.7, 3.9, 3.8, 4.0, 3.9, 4.1]
U_D2_LO = [-3.2, -3.6, -3.4, -3.9, -4.4, -5.5, -7.2, -7.6, -7.2, -8.1, -6.8, -6.0, -5.3, -4.2, -3.7, -3.5,
           -3.4, -3.7, -3.4, -3.6, -3.5, -3.4, -3.7, -3.4, -3.6, -3.5, -3.4, -3.7, -3.4, -3.6, -3.5, -3.4,
           -3.7, -3.4, -3.6, -3.5, -3.4, -3.7, -3.4, -3.6, -3.5, -3.4, -3.7, -3.4, -3.6, -3.5, -3.4, -3.7,
           -3.4, -3.6, -3.5, -3.4, -3.7, -3.5, -3.7, -3.6, -3.7, -3.7, -3.8, -3.7, -3.9, -3.8, -4.0, -4.1]
U_D2_SPK = ([2001.0, 2001.5, 2002.0, 2002.4, 2002.9], [10.0, 15.0, 20.0, 14.0, 12.0],
            [-8.0, -12.0, -20.0, -18.0, -10.0])

U_D1_HI = [4.2, 5.1, 6.0, 6.8, 7.6, 8.5, 10.2, 10.2, 9.4, 10.2, 8.5, 7.6, 6.8, 6.0, 5.5, 5.1,
           5.3, 5.1, 5.4, 5.1, 5.3, 5.2, 5.1, 5.4, 5.1, 5.3, 5.2, 5.1, 5.4, 5.1, 5.3, 5.2,
           5.1, 5.4, 5.1, 5.3, 5.2, 5.1, 5.4, 5.1, 5.3, 5.2, 5.1, 5.4, 5.1, 5.3, 5.2, 5.1,
           5.4, 5.1, 5.3, 5.2, 5.1, 5.4, 5.3, 5.4, 5.4, 5.5, 5.4, 5.6, 5.5, 5.7, 5.6, 5.8]
U_D1_LO = [-4.7, -5.5, -6.0, -7.2, -8.1, -9.4, -10.2, -11.0, -10.2, -9.4, -8.9, -7.6, -6.8, -6.0, -5.5, -5.3,
           -5.1, -5.4, -5.1, -5.3, -5.2, -5.1, -5.4, -5.1, -5.3, -5.2, -5.1, -5.4, -5.1, -5.3, -5.2, -5.1,
           -5.4, -5.1, -5.3, -5.2, -5.1, -5.4, -5.1, -5.3, -5.2, -5.1, -5.4, -5.1, -5.3, -5.2, -5.1, -5.4,
           -5.1, -5.3, -5.2, -5.1, -5.4, -5.2, -5.4, -5.3, -5.4, -5.4, -5.5, -5.4, -5.6, -5.5, -5.7, -5.8]
U_D1_SPK = ([2000.8, 2001.5, 2002.0, 2002.5, 2003.0], [15.0, 25.0, 25.0, 20.0, 12.0],
            [-12.0, -20.0, -25.0, -18.0, -10.0])

# line series (a8..d6) and band series (d5..d1) per column
SERIES = {
    "North": [(N_A8_T, N_A8), N_D8, N_D7, N_D6,
              (N_D5_HI, N_D5_LO, N_D5_SPK), (N_D4_HI, N_D4_LO, N_D4_SPK), (N_D3_HI, N_D3_LO, N_D3_SPK),
              (N_D2_HI, N_D2_LO, N_D2_SPK), (N_D1_HI, N_D1_LO, N_D1_SPK)],
    "East": [(E_A8_T, E_A8), (E_D8_T, E_D8), E_D7, E_D6,
             (E_D5_HI, E_D5_LO, E_D5_SPK), (E_D4_HI, E_D4_LO, E_D4_SPK), (E_D3_HI, E_D3_LO, E_D3_SPK),
             (E_D2_HI, E_D2_LO, E_D2_SPK), (E_D1_HI, E_D1_LO, E_D1_SPK)],
    "Up": [(U_A8_T, U_A8), U_D8, U_D7, U_D6,
           (U_D5_HI, U_D5_LO, U_D5_SPK), (U_D4_HI, U_D4_LO, U_D4_SPK), (U_D3_HI, U_D3_LO, U_D3_SPK),
           (U_D2_HI, U_D2_LO, U_D2_SPK), (U_D1_HI, U_D1_LO, U_D1_SPK)],
}

BLUE, MAGENTA, ORANGE, BLACK, GREEN = "#2F4DB0", "#C03CC0", "#F0AA1E", "#111111", "#15891A"
ROW_COLORS = [BLUE, MAGENTA, ORANGE, BLACK, BLACK, BLACK, BLACK, BLACK, BLACK]

# ---- layout geometry: pixel boxes of each panel in the window ----
COL_X = {
    "North": [(78, 322)] * 6 + [(78, 312)] * 3,
    "East": [(398, 633)] * 9,
    "Up": [(718, 953)] * 9,
}
COL_Y = {
    "North": [(34, 70), (89, 126), (145, 182), (202, 237), (258, 293), (313, 351), (372, 402),
              (429, 460), (485, 515)],
    "East": [(37, 67), (93, 123), (149, 178), (205, 234), (262, 291), (317, 347), (373, 402),
             (429, 459), (485, 513)],
    "Up": [(37, 67), (93, 123), (149, 178), (205, 234), (261, 291), (318, 346), (373, 402),
           (429, 459), (485, 513)],
}


def px(x):
    return (x - OFF) / FW


def py(y):
    return 1 - (y - OFF) / FH


SANS = "Liberation Sans"
SERIF = "Liberation Serif"

fig = go.Figure()
layout = {}
k = 0
for c, col in enumerate(COLUMNS):
    for r, row in enumerate(ROWS):
        k += 1
        s = SERIES[col][r]
        color = ROW_COLORS[r]
        if col == "Up" and row == "d6":
            color = GREEN
        ax = dict(xaxis=f"x{k}", yaxis=f"y{k}", hoverinfo="skip", showlegend=False)
        if isinstance(s, tuple) and len(s) == 3:
            hi, lo, (st, shi, slo) = s
            t = np.linspace(T0, T1, len(hi))
            fig.add_trace(go.Scatter(
                x=np.concatenate([t, t[::-1]]), y=np.concatenate([hi, lo[::-1]]),
                mode="lines", fill="toself", fillcolor=color,
                line=dict(color=color, width=0.8), **ax))
            sx, sy = [], []
            for tt, a, b in zip(st, shi, slo):
                sx += [tt, tt, None]
                sy += [b, a, None]
            fig.add_trace(go.Scatter(x=sx, y=sy, mode="lines",
                                     line=dict(color=color, width=1.0), **ax))
        else:
            if isinstance(s, tuple):
                t, v = s
            else:
                v = s
                t = np.linspace(T0, T1, len(v))
            smooth = r <= 2
            fig.add_trace(go.Scatter(
                x=t, y=v, mode="lines",
                line=dict(color=color, width=1.2 if smooth else 1.0,
                          shape="spline" if smooth else "linear"), **ax))
        x0, x1 = COL_X[col][r]
        y0, y1 = COL_Y[col][r]
        last = r == len(ROWS) - 1
        lim = YLIM[col][r]
        sfx = "" if k == 1 else str(k)
        layout[f"xaxis{sfx}"] = dict(
            domain=[px(x0), px(x1)], range=[1999, 2019], anchor=f"y{k}", automargin=False,
            showline=True, mirror="ticks" if last else True, linecolor="black", linewidth=1,
            showgrid=False, zeroline=False,
            ticks="inside" if last else "", ticklen=4, tickcolor="black",
            tickvals=XTICKS, ticktext=[str(x) for x in XTICKS],
            showticklabels=last, ticklabelstandoff=9,
            tickfont=dict(family=SANS, size=16, color="black", weight="bold"),
        )
        layout[f"yaxis{sfx}"] = dict(
            domain=[py(y1), py(y0)], range=[-lim, lim], anchor=f"x{k}", automargin=False,
            showline=True, mirror=True, linecolor="black", linewidth=1,
            showgrid=False, zeroline=False, ticks="",
            tickvals=[-lim, lim], ticktext=[f"-{lim}", f"{lim}"], ticklabelstandoff=6,
            tickfont=dict(family=SANS, size=16, color="black", weight="bold"),
        )

annotations = []
for c, col in enumerate(COLUMNS):
    x0, x1 = COL_X[col][0]
    annotations.append(dict(
        text=col, x=px((x0 + x1) / 2), y=py(19), xref="paper", yref="paper",
        showarrow=False, xanchor="center", yanchor="middle",
        font=dict(family=SERIF, size=21, color="black", weight="bold")))
    bx0, bx1 = COL_X[col][-1]
    annotations.append(dict(
        text="Time/yr", x=px((bx0 + bx1) / 2), y=py(562), xref="paper", yref="paper",
        showarrow=False, xanchor="center", yanchor="middle",
        font=dict(family=SANS, size=20, color="black", weight="bold")))
for r, row in enumerate(ROWS):
    y0, y1 = COL_Y["North"][r]
    annotations.append(dict(
        text=row, x=px(27), y=py((y0 + y1) / 2), xref="paper", yref="paper",
        showarrow=False, xanchor="center", yanchor="middle",
        font=dict(family=SANS, size=18, color="black", weight="bold")))

fig.update_layout(
    width=FW, height=FH, autosize=False,
    margin=dict(l=0, r=0, t=0, b=0, autoexpand=False),
    paper_bgcolor="white", plot_bgcolor="white",
    showlegend=False, hovermode=False,
    annotations=annotations,
    **layout,
)

fig.write_html("out.html")
